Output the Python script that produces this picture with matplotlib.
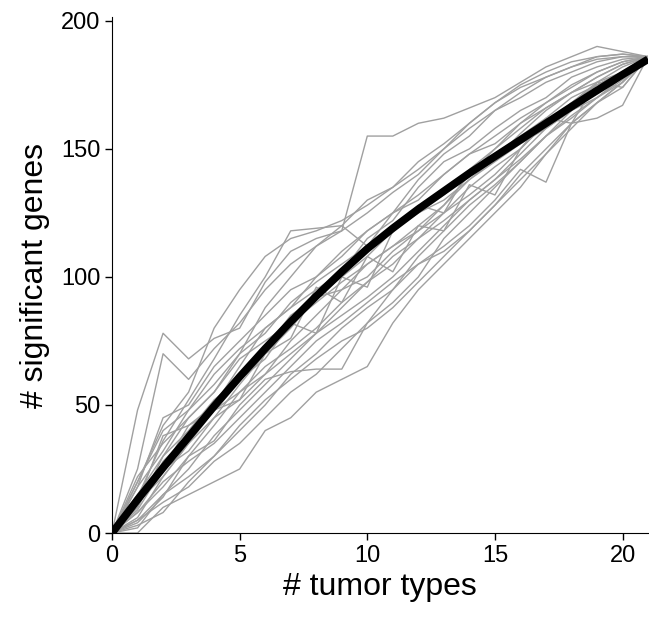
import matplotlib
matplotlib.use("Agg")
import matplotlib.pyplot as plt

plt.rcParams['font.family'] = ['Liberation Sans', 'DejaVu Sans']

# number of tumor types (x axis)
tumor_types = list(range(0, 22))

# fitted curve (thick black)
fit_curve = [0, 13, 25.5, 37.5, 49.5, 61, 72, 82.5, 92.5, 102, 111, 119,
             126.5, 133.5, 140.5, 147, 153.5, 160, 166.5, 172.8, 179, 185]

# random orderings of tumor types (thin gray)
perm_runs = [
    [0, 48, 78, 68, 76, 80, 98, 110, 115, 118, 125, 133, 140, 150, 160, 168, 174, 178, 182, 186, 187, 186],
    [0, 25, 70, 60, 72, 82, 95, 105, 112, 120, 130, 135, 142, 150, 158, 165, 170, 176, 180, 184, 186, 186],
    [0, 10, 30, 45, 55, 70, 88, 100, 112, 118, 155, 155, 160, 162, 166, 170, 176, 182, 186, 190, 188, 186],
    [0, 0, 10, 15, 20, 25, 40, 45, 55, 60, 65, 82, 95, 105, 115, 125, 135, 148, 160, 162, 167, 186],
    [0, 5, 12, 18, 28, 35, 45, 55, 62, 72, 82, 95, 108, 118, 128, 136, 145, 155, 165, 172, 178, 186],
    [0, 15, 30, 40, 52, 60, 68, 82, 78, 100, 96, 118, 128, 125, 142, 150, 158, 166, 172, 178, 183, 186],
    [0, 20, 40, 48, 58, 70, 78, 90, 98, 105, 112, 120, 125, 132, 140, 148, 155, 162, 170, 175, 180, 186],
    [0, 8, 18, 30, 42, 55, 65, 72, 80, 90, 98, 108, 115, 125, 132, 140, 150, 160, 168, 175, 180, 186],
    [0, 12, 22, 35, 45, 52, 62, 75, 85, 95, 105, 112, 120, 128, 138, 145, 152, 158, 165, 170, 176, 186],
    [0, 18, 45, 50, 65, 75, 85, 95, 100, 108, 118, 125, 130, 140, 148, 155, 162, 168, 175, 180, 184, 186],
    [0, 5, 15, 25, 38, 48, 58, 68, 78, 85, 92, 100, 110, 120, 130, 138, 146, 155, 162, 170, 177, 186],
    [0, 10, 28, 38, 50, 65, 80, 88, 95, 102, 115, 122, 135, 145, 150, 158, 165, 170, 178, 182, 185, 186],
    [0, 3, 8, 20, 30, 40, 50, 62, 70, 80, 88, 95, 105, 112, 120, 130, 142, 137, 160, 168, 174, 186],
    [0, 22, 35, 45, 55, 68, 75, 82, 90, 98, 105, 112, 118, 125, 135, 143, 150, 160, 168, 176, 182, 186],
    [0, 15, 25, 32, 45, 58, 70, 80, 92, 100, 108, 118, 125, 130, 138, 146, 156, 165, 172, 178, 183, 186],
    [0, 8, 20, 28, 35, 45, 55, 65, 75, 82, 90, 98, 105, 110, 118, 128, 138, 148, 158, 168, 176, 186],
    [0, 12, 38, 42, 50, 62, 72, 85, 92, 95, 100, 110, 118, 128, 140, 150, 160, 168, 174, 180, 184, 186],
    [0, 2, 15, 22, 30, 42, 52, 60, 68, 75, 80, 88, 98, 108, 118, 128, 140, 150, 160, 168, 176, 186],
    [0, 18, 32, 48, 62, 72, 80, 88, 100, 110, 118, 125, 132, 140, 148, 152, 160, 166, 172, 176, 180, 186],
    [0, 6, 22, 35, 48, 55, 62, 70, 78, 88, 98, 105, 115, 122, 130, 138, 148, 158, 165, 172, 180, 186],
    [0, 20, 42, 55, 80, 95, 108, 115, 118, 122, 128, 135, 145, 152, 160, 168, 175, 180, 184, 186, 187, 186],
    [0, 4, 14, 30, 36, 50, 60, 63, 64, 64, 82, 90, 100, 115, 125, 135, 145, 155, 163, 170, 178, 186],
    [0, 14, 36, 52, 68, 85, 100, 118, 119, 120, 112, 125, 138, 148, 155, 165, 172, 178, 182, 185, 186, 186],
    [0, 9, 25, 42, 48, 52, 70, 76, 96, 90, 108, 102, 120, 118, 136, 132, 150, 162, 160, 176, 174, 186],
]

fig = plt.figure(figsize=(6.49, 6.2), dpi=100)
ax = fig.add_axes([0.1726, 0.1403, 0.826, 0.8323])

for run in perm_runs:
    ax.plot(tumor_types, run, color='#a0a0a0', linewidth=1.0, zorder=1)

ax.plot(tumor_types, fit_curve, color='black', linewidth=5.5, zorder=2,
        solid_capstyle='butt')

ax.set_xlim(0, 21)
ax.set_ylim(0, 201.5)
ax.set_xticks([0, 5, 10, 15, 20])
ax.set_yticks([0, 50, 100, 150, 200])

ax.spines['top'].set_visible(False)
ax.spines['right'].set_visible(False)
ax.tick_params(direction='out', length=5, width=1, labelsize=17)

ax.set_xlabel('# tumor types', fontsize=23, labelpad=4)
ax.set_ylabel('# significant genes', fontsize=23, labelpad=8)

fig.savefig('out.png', dpi=100)
